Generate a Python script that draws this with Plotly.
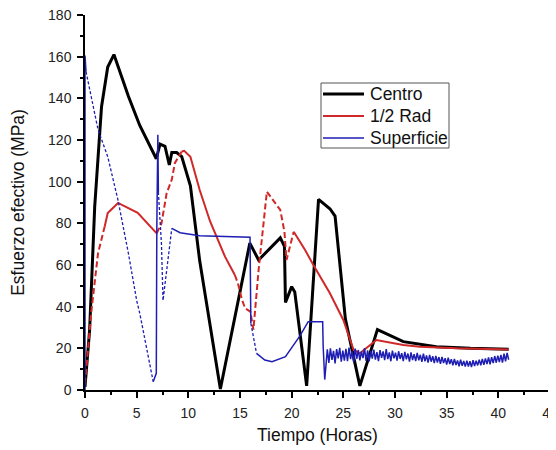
import plotly.graph_objects as go

# ---------------- data ----------------
series_names = ["Centro", "1/2 Rad", "Superficie"]

centro_x = [0.0, 0.45, 0.94, 1.6, 2.2, 2.8, 4.2, 5.3, 6.9, 7.26, 7.74, 8.16, 8.4, 8.87,
            9.36, 10.2, 11.1, 13.1, 15.95, 16.8, 18.9, 19.3, 19.4, 20.0, 20.3, 21.45,
            22.6, 23.7, 24.2, 25.2, 26.6, 28.3, 30.8, 34.0, 37.3, 41.0]
centro_y = [1.5, 29, 88, 136, 155, 161, 141, 127, 111, 118, 117, 108, 114, 114,
            112, 98, 62, 0.5, 70.5, 62.4, 73, 69, 42, 49.6, 47, 2,
            91.5, 87, 83.5, 34, 2, 29, 23.2, 20.8, 20.0, 19.6]

rad_x = [0.0, 0.6, 1.26, 1.9, 2.2, 3.2, 5.1, 6.94, 7.4, 7.9, 8.4, 8.7, 9.36, 9.6,
         10.2, 11.1, 12.1, 13.55, 14.5, 14.8, 15.2, 15.5, 16.0, 16.3, 16.8, 17.6,
         18.9, 19.3, 19.5, 20.2, 21.3, 22.1, 23.7, 25.0, 26.0, 26.6, 28.2, 30.8,
         32.4, 36.0, 41.0]
rad_y = [3, 37, 65.6, 78.4, 85, 89.8, 85, 75.2, 80, 94.4, 101, 109, 114.5, 114.8,
         112, 96, 81, 64, 55.2, 51.2, 43.2, 39.2, 37.6, 29, 57.6, 95.2,
         86.4, 76, 62.4, 76, 67.2, 60, 46.4, 33.6, 19.2, 17.6, 24, 21.6,
         20.8, 20.0, 19.5]

sup_x = [0.0, 0.0, 0.1, 1.26, 2.2, 3.2, 4.2, 5.0, 5.3, 6.6, 6.9, 6.95, 7.05, 7.1,
         7.4, 7.55, 8.4, 9.2, 11.1, 13.55, 15.97, 16.05, 16.3, 16.6, 17.4, 18.1,
         19.4, 20.8, 21.6, 23.0, 23.05, 23.2]
sup_y = [0, 160.5, 152.8, 125, 112, 91, 65.6, 43, 36.8, 4, 8, 78, 122.5, 95,
         70, 43, 77.6, 75.5, 74, 73.6, 73.3, 32, 25.6, 17.6, 14.4, 13.6,
         16, 26, 32.8, 32.8, 20.8, 5]

# noisy tail of the surface curve, sampled every 0.15 h starting at 23.45 h
sup_noise_start = 23.45
sup_noise_step = 0.15
sup_noise_y = [19.5, 13.0, 20.0, 14.5, 18.8, 12.8, 19.6, 15.2, 20.2, 13.6,
               18.9, 14.1, 19.8, 13.9, 20.4, 14.8, 18.6, 13.4, 19.9, 15.0,
               19.2, 14.2, 18.4, 15.3, 20.1, 14.0, 19.0, 13.7, 18.7, 15.1,
               19.4, 14.6, 18.2, 13.9, 19.1, 15.4, 18.5, 14.3, 19.6, 14.8,
               18.0, 13.8, 18.9, 15.2, 17.9, 14.1, 18.6, 14.9, 17.7, 13.9,
               18.3, 14.7, 17.5, 13.6, 18.1, 14.4, 17.2, 13.9, 17.8, 14.2,
               16.9, 13.5, 17.4, 13.8, 16.6, 13.1, 16.9, 13.6, 16.2, 12.9,
               16.4, 13.2, 15.8, 12.6, 15.9, 12.9, 15.3, 12.2, 15.5, 12.5,
               14.8, 11.8, 14.9, 12.0, 14.2, 11.4, 14.5, 11.6, 13.9, 11.2,
               14.1, 11.3, 13.8, 11.0, 14.3, 11.5, 14.0, 11.8, 14.6, 11.9,
               14.9, 12.1, 15.2, 12.4, 15.6, 12.3, 15.8, 12.9, 16.3, 13.1,
               16.5, 13.4, 16.9, 13.2, 17.4, 13.8, 17.8, 14.5]

# time intervals drawn with dashed lines
rad_dashed = [(0.0, 1.9), (6.94, 9.36), (14.5, 20.2)]
sup_dashed = [(0.1, 6.6), (7.1, 8.4), (16.05, 16.6)]

x_ticks = [0, 5, 10, 15, 20, 25, 30, 35, 40, 45]
y_ticks = [0, 20, 40, 60, 80, 100, 120, 140, 160, 180]

# ---------------- helpers ----------------
def split(xs, ys, ranges):
    sx, sy, dx, dy = [], [], [], []
    last = {"solid": None, "dash": None}
    bufs = {"solid": (sx, sy), "dash": (dx, dy)}
    for i in range(len(xs) - 1):
        x0, x1 = xs[i], xs[i + 1]
        kind = "dash" if any(a <= x0 and x1 <= b for a, b in ranges) else "solid"
        bx, by = bufs[kind]
        if last[kind] == i:
            bx.append(x1); by.append(ys[i + 1])
        else:
            if bx:
                bx.append(None); by.append(None)
            bx.extend([x0, x1]); by.extend([ys[i], ys[i + 1]])
        last[kind] = i + 1
    return sx, sy, dx, dy

BLACK = "#000000"
RED = "#d02828"
BLUE = "#1e1eb4"
FONT = "Liberation Sans, Arial, sans-serif"

noise_x = [round(sup_noise_start + sup_noise_step * i, 3) for i in range(len(sup_noise_y))]
sup_all_x = sup_x + noise_x
sup_all_y = sup_y + sup_noise_y

fig = go.Figure()

fig.add_trace(go.Scatter(x=centro_x, y=centro_y, mode="lines", name=series_names[0],
                         line=dict(color=BLACK, width=3)))

rsx, rsy, rdx, rdy = split(rad_x, rad_y, rad_dashed)
fig.add_trace(go.Scatter(x=rsx, y=rsy, mode="lines", name=series_names[1],
                         line=dict(color=RED, width=2)))
fig.add_trace(go.Scatter(x=rdx, y=rdy, mode="lines", showlegend=False,
                         line=dict(color=RED, width=2, dash="6px,3px")))

ssx, ssy, sdx, sdy = split(sup_all_x, sup_all_y, sup_dashed)
fig.add_trace(go.Scatter(x=ssx, y=ssy, mode="lines", name=series_names[2],
                         line=dict(color=BLUE, width=1.5)))
fig.add_trace(go.Scatter(x=sdx, y=sdy, mode="lines", showlegend=False,
                         line=dict(color=BLUE, width=1.3, dash="3px,2px")))

axis_common = dict(
    showline=True, linecolor="black", linewidth=1.5,
    ticks="outside", ticklen=6, tickwidth=1.5, tickcolor="black",
    showgrid=False, zeroline=False, automargin=False,
    tickfont=dict(family=FONT, size=14, color="#222"),
    ticklabelstandoff=3, ticklabeloverflow="allow",
)

fig.update_xaxes(range=[0, 45], tickvals=x_ticks,
                 minor=dict(dtick=2.5, ticklen=3, ticks="outside", tickcolor="black", tickwidth=1.5),
                 title=dict(text="Tiempo (Horas)", font=dict(family=FONT, size=17.5, color="#111"), standoff=9),
                 **axis_common)
fig.update_yaxes(range=[0, 180], tickvals=y_ticks,
                 minor=dict(dtick=10, ticklen=3, ticks="outside", tickcolor="black", tickwidth=1.5),
                 title=dict(text="Esfuerzo efectivo (MPa)", font=dict(family=FONT, size=17.5, color="#111"), standoff=19),
                 **axis_common)

# ---------------- hand-drawn legend box (paper coordinates) ----------------
PW, PH = 465.0, 375.0          # plot area size in px
def px(xp):                    # page px -> paper x
    return (xp - 85) / PW
def py(yp):                    # page px -> paper y
    return (390 - yp) / PH

legend_styles = [dict(color=BLACK, width=3), dict(color=RED, width=2), dict(color=BLUE, width=1.5)]
shapes = [dict(type="rect", xref="paper", yref="paper",
               x0=px(321), x1=px(449), y0=py(148), y1=py(83),
               line=dict(color="#555", width=1), fillcolor="white", layer="above")]
annotations = []
for k, (nm, st) in enumerate(zip(series_names, legend_styles)):
    yy = py(94 + 22 * k)
    shapes.append(dict(type="line", xref="paper", yref="paper",
                       x0=px(323), x1=px(364), y0=yy, y1=yy, line=st, layer="above"))
    annotations.append(dict(xref="paper", yref="paper", x=px(368), y=yy,
                            xanchor="left", yanchor="middle", showarrow=False,
                            text=nm, font=dict(family=FONT, size=17.5, color="#111")))

# page body has an 8px margin, so the figure is 8px smaller and offset
fig.update_layout(
    width=548, height=442,
    margin=dict(l=77, r=6, t=7, b=60),
    paper_bgcolor="white", plot_bgcolor="white",
    font=dict(family=FONT),
    showlegend=False,
    shapes=shapes,
    annotations=annotations,
)

fig.write_html("out.html")
